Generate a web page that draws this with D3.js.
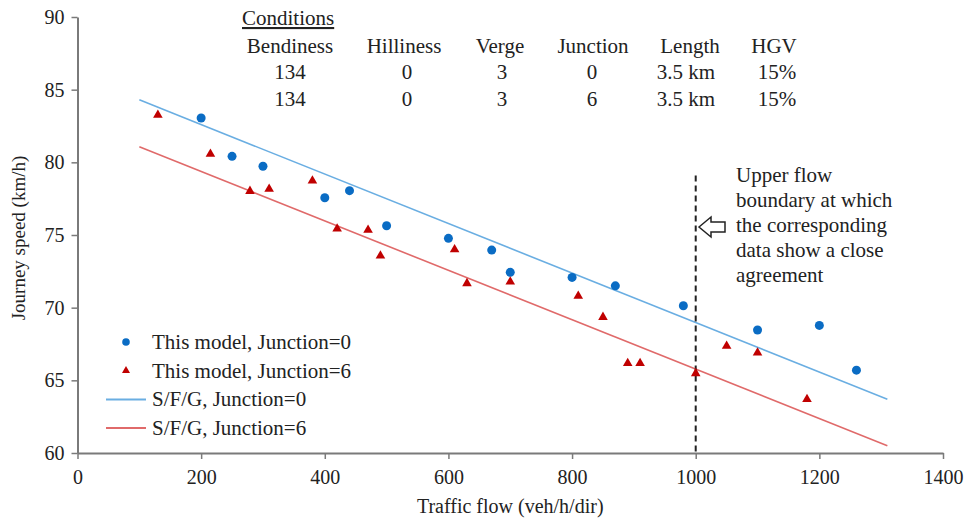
<!DOCTYPE html>
<html>
<head>
<meta charset="utf-8">
<script src="https://cdn.jsdelivr.net/npm/d3@7"></script>
<style>
  body { margin: 0; background: #fff; }
  svg text { font-family: "Liberation Serif", "Times New Roman", serif; fill: #222; }
</style>
</head>
<body>
<svg id="chart" width="967" height="522"></svg>
<script>
// data
var flow0 = [200, 250, 300, 400, 440, 500, 600, 670, 700, 800, 870, 980, 1100, 1200, 1260];
var speed0 = [83.05, 80.41, 79.73, 77.56, 78.05, 75.64, 74.77, 73.96, 72.43, 72.08, 71.5, 70.13, 68.46, 68.78, 65.7];

var flow6 = [130, 215, 279, 310, 380, 420, 470, 490, 610, 630, 700, 810, 850, 890, 910, 1000, 1050, 1100, 1180];
var speed6 = [83.26, 80.57, 78.02, 78.16, 78.73, 75.43, 75.34, 73.57, 74.0, 71.67, 71.78, 70.8, 69.35, 66.17, 66.17, 65.48, 67.36, 66.9, 63.7];

var sfgFlow = [100, 1310];
var sfgSpeed0 = [84.3, 63.7];
var sfgSpeed6 = [81.07, 60.5];

var boundaryFlow = 1000;
var boundaryTop = 79.1;

var xTicks = [0, 200, 400, 600, 800, 1000, 1200, 1400];
var yTicks = [60, 65, 70, 75, 80, 85, 90];

var condHeaders = ["Bendiness", "Hilliness", "Verge", "Junction", "Length", "HGV"];
var condRows = [
    ["134", "0", "3", "0", "3.5 km", "15%"],
    ["134", "0", "3", "6", "3.5 km", "15%"]
];

var legendLabels = ["This model, Junction=0", "This model, Junction=6", "S/F/G, Junction=0", "S/F/G, Junction=6"];
var noteLines = ["Upper flow", "boundary at which", "the corresponding", "data show a close", "agreement"];

var blueDot = "#0a6cc4", redTri = "#c00000", blueLine = "#6aaee2", redLine = "#e06a6a";

var svg = d3.select("#chart"),
    margin = {top: 17, right: 24, bottom: 69, left: 77.5},
    width = +svg.attr("width"),
    height = +svg.attr("height");

var x = d3.scaleLinear().domain([0, 1400]).range([margin.left, width - margin.right]);
var y = d3.scaleLinear().domain([60, 90]).range([height - margin.bottom, margin.top]);

// axes
var xAxis = d3.axisBottom(x).tickValues(xTicks).tickFormat(d3.format("d"))
    .tickSize(6).tickSizeOuter(0).tickPadding(11);
var yAxis = d3.axisLeft(y).tickValues(yTicks).tickFormat(d3.format("d"))
    .tickSize(6).tickSizeOuter(0).tickPadding(7);

var gx = svg.append("g")
    .attr("transform", "translate(0," + y(60) + ")")
    .call(xAxis);
var gy = svg.append("g")
    .attr("transform", "translate(" + x(0) + ",0)")
    .call(yAxis);

[gx, gy].forEach(function(g) {
    g.attr("font-family", null).attr("font-size", 20);
    g.select(".domain").attr("stroke", "#7a7a7a").attr("stroke-width", 2);
    g.selectAll(".tick line").attr("stroke", "#7a7a7a").attr("stroke-width", 1.5);
    g.selectAll(".tick text").attr("fill", "#222");
});

svg.append("text")
    .attr("x", x(700)).attr("y", 513)
    .attr("text-anchor", "middle").attr("font-size", 20)
    .text("Traffic flow (veh/h/dir)");

svg.append("text")
    .attr("transform", "translate(25," + 238 + ") rotate(-90)")
    .attr("text-anchor", "middle").attr("font-size", 19)
    .text("Journey speed (km/h)");

// S/F/G lines
var line = d3.line().x(d => x(d[0])).y(d => y(d[1]));
svg.append("path")
    .attr("d", line(d3.zip(sfgFlow, sfgSpeed0)))
    .attr("fill", "none").attr("stroke", blueLine).attr("stroke-width", 1.6);
svg.append("path")
    .attr("d", line(d3.zip(sfgFlow, sfgSpeed6)))
    .attr("fill", "none").attr("stroke", redLine).attr("stroke-width", 1.6);

// boundary
svg.append("line")
    .attr("x1", x(boundaryFlow)).attr("x2", x(boundaryFlow))
    .attr("y1", y(boundaryTop)).attr("y2", y(60))
    .attr("stroke", "#222").attr("stroke-width", 2)
    .attr("stroke-dasharray", "6,4");

// model points
svg.append("g").selectAll("circle")
    .data(d3.zip(flow0, speed0))
    .join("circle")
    .attr("cx", d => x(d[0])).attr("cy", d => y(d[1]))
    .attr("r", 4.5).attr("fill", blueDot);

var tri = d3.symbol().type(d3.symbolTriangle).size(40);
svg.append("g").selectAll("path")
    .data(d3.zip(flow6, speed6))
    .join("path")
    .attr("d", tri)
    .attr("transform", d => "translate(" + x(d[0]) + "," + y(d[1]) + ")")
    .attr("fill", redTri);

// legend
var legend = svg.append("g").attr("transform", "translate(106,342)");
legendLabels.forEach(function(label, i) {
    var row = legend.append("g").attr("transform", "translate(0," + (i * 28.7) + ")");
    if (i === 0) {
        row.append("circle").attr("cx", 20).attr("cy", 0).attr("r", 3.8).attr("fill", blueDot);
    } else if (i === 1) {
        row.append("path").attr("d", d3.symbol().type(d3.symbolTriangle).size(28))
            .attr("transform", "translate(20,0)").attr("fill", redTri);
    } else {
        row.append("line").attr("x1", 0).attr("x2", 40).attr("y1", 0).attr("y2", 0)
            .attr("stroke", i === 2 ? blueLine : redLine).attr("stroke-width", 2);
    }
    row.append("text").attr("x", 46).attr("y", 7).attr("font-size", 21).text(label);
});

// conditions table
var colCenters = [290, 404, 500, 593, 690, 774];
var rowCenters = [290, 407, 502, 592, 686, 777];
var cond = svg.append("g");
cond.append("text").attr("x", 242).attr("y", 25).attr("font-size", 21)
    .attr("text-decoration", "underline").text("Conditions");
cond.selectAll(".hdr")
    .data(condHeaders)
    .join("text")
    .attr("class", "hdr")
    .attr("x", (d, i) => colCenters[i]).attr("y", 53)
    .attr("text-anchor", "middle").attr("font-size", 21)
    .text(d => d);
condRows.forEach(function(r, j) {
    cond.selectAll(".row" + j)
        .data(r)
        .join("text")
        .attr("class", "row" + j)
        .attr("x", (d, i) => rowCenters[i]).attr("y", 79 + j * 26.5)
        .attr("text-anchor", "middle").attr("font-size", 21)
        .text(d => d);
});

// annotation
var note = svg.append("g");
note.selectAll("text")
    .data(noteLines)
    .join("text")
    .attr("x", 736).attr("y", (d, i) => 182 + i * 25)
    .attr("font-size", 21)
    .text(d => d);

// hollow arrow pointing at boundary
var ax = 699, ay = 227;
note.append("path")
    .attr("d", "M" + ax + "," + ay +
        " L" + (ax + 12) + "," + (ay - 10) +
        " L" + (ax + 12) + "," + (ay - 5) +
        " L" + (ax + 26) + "," + (ay - 5) +
        " L" + (ax + 26) + "," + (ay + 5) +
        " L" + (ax + 12) + "," + (ay + 5) +
        " L" + (ax + 12) + "," + (ay + 10) + " Z")
    .attr("fill", "#fff").attr("stroke", "#222").attr("stroke-width", 1.5);
</script>
</body>
</html>
